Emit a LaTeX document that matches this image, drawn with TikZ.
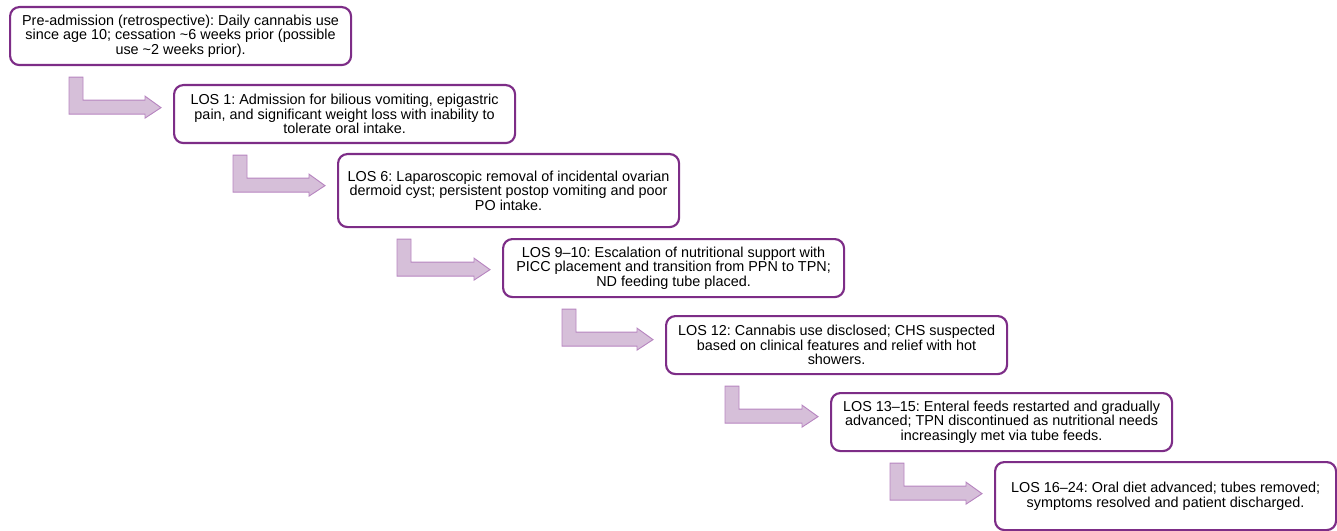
\documentclass[tikz,border=0pt]{standalone}
\usepackage{fontspec}
\setmainfont{Liberation Sans}
\usetikzlibrary{calc,positioning}
\definecolor{losline}{RGB}{125,45,135}
\definecolor{arrowfill}{RGB}{214,191,217}
\definecolor{arrowline}{RGB}{183,133,192}
\newcommand{\losarrow}[2]{%
  \coordinate (s) at ($(#1.south west)+(60,11)$);
  \coordinate (t) at ($(#2.west)+(-12,0)$);
  \draw[stepflow] (s) -- ++(14,0) -- ++(0,23) -- ($(t|-s)+(-16,23)$) -- ++(0,-4)
    -- ($(t|-s)+(0,30.5)$) -- ($(t|-s)+(-16,41)$) -- ++(0,-4) -- ($(s)+(0,37)$) -- cycle;
}
\frenchspacing

\begin{document}
\begin{tikzpicture}[
x=0.75pt, y=-0.75pt,
losbox/.style={
  draw=losline,
  line width=1.6pt,
  rounded corners=7pt,
  fill=white,
  align=center,
  anchor=north west,
  minimum width=255.75pt,
  minimum height=43.5pt,
  inner sep=2pt,
  font=\fontsize{10.8pt}{10.9pt}\selectfont
  },
stepflow/.style={
  fill=arrowfill,
  draw=arrowline,
  line width=0.7pt
  },
>=latex
]
\useasboundingbox (0,0) rectangle (1337,531);
\node[losbox] (pre) at (9,6) {Pre-admission (retrospective): Daily cannabis use\\since age 10; cessation \textasciitilde6 weeks prior (possible\\use \textasciitilde2 weeks prior).};
\node[losbox] (los1) at (173,84) {LOS 1: Admission for bilious vomiting, epigastric\\pain, and significant weight loss with inability to\\tolerate oral intake.};
\node[losbox, minimum height=54.75pt] (los6) at (337,153) {LOS 6: Laparoscopic removal of incidental ovarian\\dermoid cyst; persistent postop vomiting and poor\\PO intake.};
\node[losbox] (los9) at (502,238) {LOS 9–10: Escalation of nutritional support with\\PICC placement and transition from PPN to TPN;\\ND feeding tube placed.};
\node[losbox] (los12) at (665,315) {LOS 12: Cannabis use disclosed; CHS suspected\\based on clinical features and relief with hot\\showers.};
\node[losbox] (los13) at (830,392) {LOS 13–15: Enteral feeds restarted and gradually\\advanced; TPN discontinued as nutritional needs\\increasingly met via tube feeds.};
\node[losbox, minimum height=51pt] (los16) at (994,461) {LOS 16–24: Oral diet advanced; tubes removed;\\symptoms resolved and patient discharged.};
\losarrow{pre}{los1}
\losarrow{los1}{los6}
\losarrow{los6}{los9}
\losarrow{los9}{los12}
\losarrow{los12}{los13}
\losarrow{los13}{los16}
\end{tikzpicture}
\end{document}
